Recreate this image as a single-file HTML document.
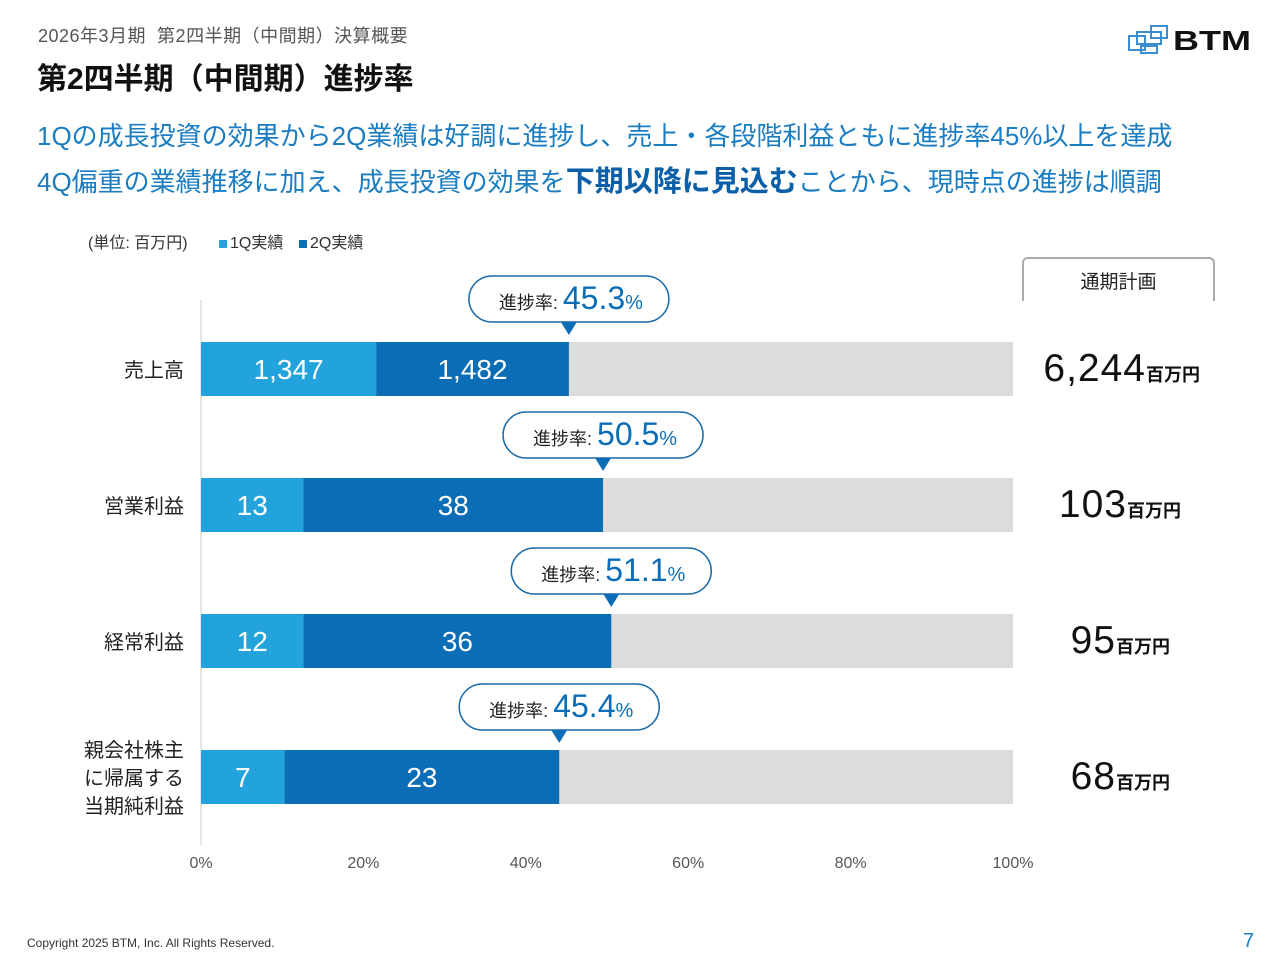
<!DOCTYPE html>
<html><head><meta charset="utf-8">
<style>
body{margin:0;width:1280px;height:960px;background:#fff;font-family:"Liberation Sans","Noto Sans CJK JP",sans-serif;position:relative;overflow:hidden}
.a{position:absolute;white-space:nowrap}
</style></head><body>
<div class="a" style="left:38px;top:22px;font-size:18px;color:#555;letter-spacing:0.5px">2026年3月期&nbsp;&nbsp;第2四半期（中間期）決算概要</div>
<div class="a" style="left:37px;top:54px;font-size:30px;font-weight:bold;color:#111">第2四半期（中間期）進捗率</div>
<svg class="a" style="left:1125px;top:22px" width="135" height="36">
<rect x="4" y="14" width="16" height="14" fill="none" stroke="#3b8fd0" stroke-width="2"/><rect x="12" y="10" width="24" height="12" fill="none" stroke="#3b8fd0" stroke-width="2"/><rect x="26" y="4" width="16" height="12" fill="none" stroke="#3b8fd0" stroke-width="2"/><rect x="16" y="24" width="16" height="7" fill="none" stroke="#3b8fd0" stroke-width="2"/>
<text x="48" y="28" font-size="28" font-weight="bold" fill="#111" font-family="Liberation Sans" textLength="78" lengthAdjust="spacingAndGlyphs">BTM</text></svg>
<div class="a" style="left:37px;top:116px;font-size:26px;color:#1a7cc1">1Qの成長投資の効果から2Q業績は好調に進捗し、売上・各段階利益ともに進捗率45%以上を達成</div>
<div class="a" style="left:37px;top:158px;font-size:26px;color:#1a7cc1">4Q偏重の業績推移に加え、成長投資の効果を<b style="font-size:29px;color:#0a5fa8">下期以降に見込む</b>ことから、現時点の進捗は順調</div>
<div class="a" style="left:88px;top:229px;font-size:16px;color:#333">(単位: 百万円)</div>
<div class="a" style="left:219px;top:229px;font-size:16px;color:#333"><span style="display:inline-block;width:8px;height:8px;background:#23a3dc;margin-right:3px"></span>1Q実績</div>
<div class="a" style="left:299px;top:229px;font-size:16px;color:#333"><span style="display:inline-block;width:8px;height:8px;background:#0a6db5;margin-right:3px"></span>2Q実績</div>
<div class="a" style="left:1022px;top:257px;width:189px;height:42px;border:2px solid #aaa;border-bottom:none;border-radius:6px 6px 0 0;text-align:center;line-height:48px;font-size:19px;color:#222">通期計画</div>
<svg id="chart" class="a" style="left:0;top:0" width="1280" height="960"></svg>
<div class="a" style="left:27px;top:936px;font-size:12px;color:#333">Copyright 2025 BTM, Inc. All Rights Reserved.</div>
<div class="a" style="left:1243px;top:930px;font-size:20px;color:#1a7cc1">7</div>
<script>
const categories=[["売上高"],["営業利益"],["経常利益"],["親会社株主","に帰属する","当期純利益"]];
const q1=[1347,13,12,7];
const q2=[1482,38,36,23];
const plan=[6244,103,95,68];
const rates=["45.3","50.5","51.1","45.4"];
const ticks=[0,20,40,60,80,100];
const svg=document.getElementById('chart');const NS="http://www.w3.org/2000/svg";
const x=p=>201+p*8.12;const yb=i=>342+i*136;const bh=54;
function mk(t,a,txt){const e=document.createElementNS(NS,t);for(const k in a)e.setAttribute(k,a[k]);if(txt!==undefined)e.textContent=txt;svg.appendChild(e);return e;}
let ax=mk('line',{x1:201,y1:300,x2:201,y2:845,stroke:'#ccc','stroke-width':1});

ticks.forEach(t=>{const e=mk('text',{x:x(t),y:868,'text-anchor':'middle','font-size':16,fill:'#555'},t+'%');
});
categories.forEach((c,i)=>{const y=yb(i);
const bg=mk('rect',{x:x(0),y:y,width:x(100)-x(0),height:bh,fill:'#dcdcdc'});

const p1=q1[i]/plan[i]*100,p2=q2[i]/plan[i]*100;
const r1=mk('rect',{x:x(0),y:y,width:x(p1)-x(0),height:bh,fill:'#23a3dc'});

const r2=mk('rect',{x:x(p1),y:y,width:x(p1+p2)-x(p1),height:bh,fill:'#0a6db5'});

const t1=mk('text',{x:(x(0)+x(p1))/2,y:y+37,'text-anchor':'middle','font-size':28,fill:'#fff'},q1[i].toLocaleString());

const t2=mk('text',{x:(x(p1)+x(p1+p2))/2,y:y+37,'text-anchor':'middle','font-size':28,fill:'#fff'},q2[i].toLocaleString());

const n=c.length;c.forEach((l,j)=>{const e=mk('text',{x:184,y:y+35+(j-(n-1)/2)*28,'text-anchor':'end','font-size':20,fill:'#222'},l);
});
const cx=x(p1+p2);
const pill=mk('rect',{x:cx-100,y:y-66,width:200,height:46,rx:23,fill:'#fff',stroke:'#1a6aa8','stroke-width':1.5});

const tri=mk('path',{d:`M${cx-8} ${y-20}L${cx+8} ${y-20}L${cx} ${y-7}Z`,fill:'#0a6db5'});

const ct=mk('text',{x:cx+2,y:y-33,'text-anchor':'middle',fill:'#0a6db5'});

ct.innerHTML=`<tspan font-size="18" fill="#222">進捗率: </tspan><tspan font-size="32">${rates[i]}</tspan><tspan font-size="20">%</tspan>`;
const pt=mk('text',{x:1200,y:y+39,'text-anchor':'end',fill:'#111'});

pt.innerHTML=`<tspan font-size="39" letter-spacing="1">${plan[i].toLocaleString()}</tspan><tspan font-size="18" font-weight="bold">百万円</tspan>`;
if(i>0)pt.setAttribute('x',1200-(i==1?19:30));
});
</script>
</body></html>
